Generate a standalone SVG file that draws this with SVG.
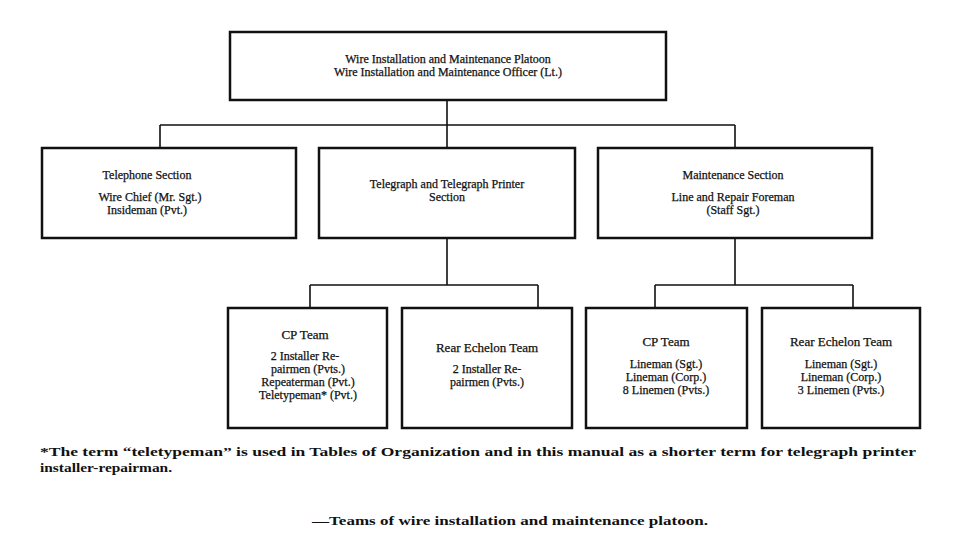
<svg xmlns="http://www.w3.org/2000/svg" width="960" height="540" viewBox="0 0 960 540">
<style>
.b{fill:#fff;stroke:#111;stroke-width:2.5}
.l{stroke:#111;stroke-width:1.6;fill:none}
text{font-family:"Liberation Serif",serif;font-size:12px;fill:#111;stroke:#111;stroke-width:0.25;text-anchor:middle}
.h{font-size:13px}
.f{font-size:13.5px;text-anchor:start;font-weight:bold;stroke-width:0}
</style>
<rect width="960" height="540" fill="#fff"/>
<g id="connectors">
<path class="l" d="M447 100V148M160 125H735M160 125V148M735 125V148M447 238V285M310 285H538M310 285V308M538 285V308M735 238V285M655 285H853M655 285V308M853 285V308"/>
</g>
<g id="platoon"><rect class="b" x="230" y="32" width="436" height="68"/>
<text x="448" y="63">Wire Installation and Maintenance Platoon</text>
<text x="448" y="76">Wire Installation and Maintenance Officer (Lt.)</text></g>
<g id="telephone"><rect class="b" x="42" y="148" width="254" height="90"/>
<text x="147" y="179">Telephone Section</text>
<text x="150" y="201">Wire Chief (Mr. Sgt.)</text>
<text x="147" y="214">Insideman (Pvt.)</text></g>
<g id="telegraph"><rect class="b" x="319" y="148" width="256" height="90"/>
<text x="447" y="188">Telegraph and Telegraph Printer</text>
<text x="447" y="201">Section</text></g>
<g id="maintenance"><rect class="b" x="598" y="148" width="274" height="90"/>
<text x="733" y="179">Maintenance Section</text>
<text x="733" y="201">Line and Repair Foreman</text>
<text x="733" y="214">(Staff Sgt.)</text></g>
<g id="cp1"><rect class="b" x="228" y="308" width="159" height="120"/>
<text class="h" x="305" y="339">CP Team</text>
<text x="305" y="360">2 Installer Re-</text>
<text x="308" y="373">pairmen (Pvts.)</text>
<text x="308" y="386">Repeaterman (Pvt.)</text>
<text x="308" y="399">Teletypeman* (Pvt.)</text></g>
<g id="rear1"><rect class="b" x="402" y="308" width="170" height="120"/>
<text class="h" x="487" y="352">Rear Echelon Team</text>
<text x="487" y="373">2 Installer Re-</text>
<text x="487" y="386">pairmen (Pvts.)</text></g>
<g id="cp2"><rect class="b" x="586" y="308" width="161" height="120"/>
<text class="h" x="666" y="346">CP Team</text>
<text x="666" y="368">Lineman (Sgt.)</text>
<text x="666" y="381">Lineman (Corp.)</text>
<text x="666" y="394">8 Linemen (Pvts.)</text></g>
<g id="rear2"><rect class="b" x="762" y="308" width="158" height="120"/>
<text class="h" x="841" y="346">Rear Echelon Team</text>
<text x="841" y="368">Lineman (Sgt.)</text>
<text x="841" y="381">Lineman (Corp.)</text>
<text x="841" y="394">3 Linemen (Pvts.)</text></g>
<text class="f" x="40" y="456" textLength="876" lengthAdjust="spacingAndGlyphs">*The term “teletypeman” is used in Tables of Organization and in this manual as a shorter term for telegraph printer</text>
<text class="f" x="40" y="472" textLength="132" lengthAdjust="spacingAndGlyphs">installer-repairman.</text>
<text class="f" x="312" y="525" textLength="396" lengthAdjust="spacingAndGlyphs">—Teams of wire installation and maintenance platoon.</text>
</svg>
